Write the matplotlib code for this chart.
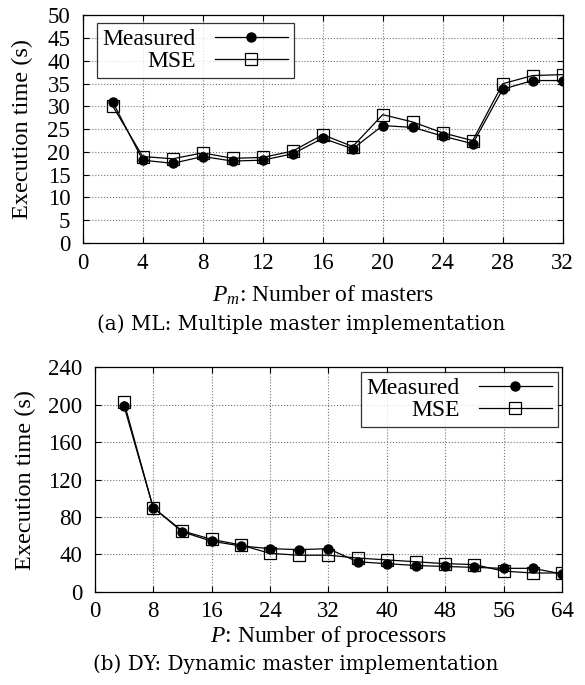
import numpy as np
import matplotlib
matplotlib.use('Agg')
import matplotlib.pyplot as plt

plt.rcParams['font.family'] = ['Liberation Serif', 'DejaVu Serif']
plt.rcParams['mathtext.fontset'] = 'custom'
plt.rcParams['mathtext.it'] = 'Liberation Serif:italic'
plt.rcParams['mathtext.rm'] = 'Liberation Serif'

# (a) multiple master
masters = [2, 4, 6, 8, 10, 12, 14, 16, 18, 20, 22, 24, 26, 28, 30, 32]
ml_measured = [31.0, 18.2, 17.5, 19.0, 18.0, 18.2, 19.6, 23.0, 20.7, 25.8,
               25.4, 23.5, 21.8, 33.8, 35.7, 35.7]
ml_mse = [30.1, 19.0, 18.5, 19.8, 18.6, 18.8, 20.2, 23.8, 21.2, 28.2,
          26.6, 24.2, 22.5, 35.0, 36.8, 37.0]

# (b) dynamic master
procs = [4, 8, 12, 16, 20, 24, 28, 32, 36, 40, 44, 48, 52, 56, 60, 64]
dy_measured = [199, 90, 64, 54, 49, 46, 45, 46, 32, 30, 28, 27, 26, 25, 25, 19]
dy_mse = [203, 90, 65, 56, 50, 41, 39, 39, 36, 34, 32, 30, 29, 22, 20, 20]

fig = plt.figure(figsize=(5.85, 6.85), dpi=100)
ax1 = fig.add_axes([0.1414, 0.6453, 0.8205, 0.3321])
ax2 = fig.add_axes([0.1619, 0.1362, 0.7988, 0.3276])


def style(ax, xmax, xstep, ymax, ystep):
    ax.set_xlim(0, xmax)
    ax.set_ylim(0, ymax)
    ax.set_xticks(np.arange(0, xmax + 1, xstep))
    ax.set_yticks(np.arange(0, ymax + 1, ystep))
    ax.grid(True, linestyle=':', color='#777777', linewidth=0.8)
    ax.tick_params(direction='in', top=True, right=True, length=4,
                   labelsize=16.5, width=0.8)
    ax.tick_params(axis='x', pad=7)
    ax.tick_params(axis='y', pad=9)
    for s in ax.spines.values():
        s.set_linewidth(0.9)


def draw(ax, x, meas, mse):
    ax.plot(x, meas, '-', color='black', lw=0.9, marker='o', ms=6.5,
            mfc='black', label='Measured')
    ax.plot(x, mse, '-', color='black', lw=0.9, marker='s', ms=9,
            mfc='none', mew=0.9, label='MSE')


def legend(ax, loc, anchor):
    leg = ax.legend(loc=loc, bbox_to_anchor=anchor, markerfirst=False,
                    fontsize=17, handlelength=3.1, frameon=True,
                    fancybox=False, edgecolor='black', borderpad=0.25,
                    labelspacing=0.0, handletextpad=0.8, borderaxespad=0,
                    numpoints=1)
    leg.get_frame().set_linewidth(0.9)
    return leg


draw(ax1, masters, ml_measured, ml_mse)
style(ax1, 32, 4, 50, 5)
ax1.set_ylabel('Execution time (s)', fontsize=17.5)
ax1.yaxis.set_label_coords(-0.104, 0.5)
ax1.set_xlabel('$P_m$: Number of masters', fontsize=17, labelpad=7)
legend(ax1, 'upper left', (0.029, 0.967))

draw(ax2, procs, dy_measured, dy_mse)
style(ax2, 64, 8, 240, 40)
ax2.set_ylabel('Execution time (s)', fontsize=17.5)
ax2.yaxis.set_label_coords(-0.126, 0.5)
ax2.set_xlabel('$P$: Number of processors', fontsize=17, labelpad=1)
legend(ax2, 'upper right', (0.991, 0.979))

fig.text(0.515, 1 - 324 / 685, '(a) ML: Multiple master implementation',
         ha='center', va='center', fontsize=14.3, family='DejaVu Serif')
fig.text(0.506, 1 - 664 / 685, '(b) DY: Dynamic master implementation',
         ha='center', va='center', fontsize=14.3, family='DejaVu Serif')

fig.savefig('out.png', dpi=100)
